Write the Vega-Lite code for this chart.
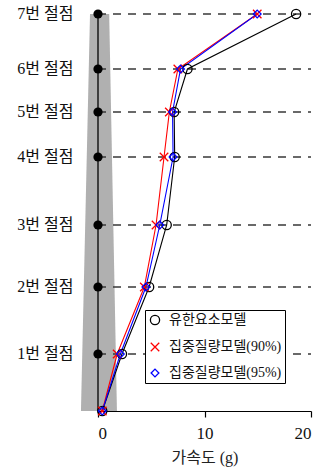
{
  "$schema": "https://vega.github.io/schema/vega-lite/v6.json",
  "width": 213,
  "height": 397,
  "autosize": {"type": "none"},
  "padding": {"left": 98, "top": 14, "right": 10, "bottom": 63},
  "config": {
    "view": {"stroke": null},
    "font": "Liberation Serif, Noto Sans CJK KR",
    "axis": {"grid": false}
  },
  "datasets": {
    "nodes": [
      {"level": 0, "node": "", "h": 0},
      {"level": 1, "node": "1번 절점", "h": 5.7},
      {"level": 2, "node": "2번 절점", "h": 12.4},
      {"level": 3, "node": "3번 절점", "h": 18.6},
      {"level": 4, "node": "4번 절점", "h": 25.4},
      {"level": 5, "node": "5번 절점", "h": 29.9},
      {"level": 6, "node": "6번 절점", "h": 34.2},
      {"level": 7, "node": "7번 절점", "h": 39.7}
    ],
    "column": [
      {"h": 0, "left": -1.6, "right": 1.78},
      {"h": 39.7, "left": -0.75, "right": 1.05}
    ],
    "accel": [
      {"model": "유한요소모델", "level": 0, "h": 0, "acc": 0.4},
      {"model": "유한요소모델", "level": 1, "h": 5.7, "acc": 2.25},
      {"model": "유한요소모델", "level": 2, "h": 12.4, "acc": 4.8},
      {"model": "유한요소모델", "level": 3, "h": 18.6, "acc": 6.45},
      {"model": "유한요소모델", "level": 4, "h": 25.4, "acc": 7.2},
      {"model": "유한요소모델", "level": 5, "h": 29.9, "acc": 7.15},
      {"model": "유한요소모델", "level": 6, "h": 34.2, "acc": 8.4},
      {"model": "유한요소모델", "level": 7, "h": 39.7, "acc": 18.6},
      {"model": "집중질량모델(90%)", "level": 0, "h": 0, "acc": 0.4},
      {"model": "집중질량모델(90%)", "level": 1, "h": 5.7, "acc": 1.8},
      {"model": "집중질량모델(90%)", "level": 2, "h": 12.4, "acc": 4.35},
      {"model": "집중질량모델(90%)", "level": 3, "h": 18.6, "acc": 5.45},
      {"model": "집중질량모델(90%)", "level": 4, "h": 25.4, "acc": 6.2},
      {"model": "집중질량모델(90%)", "level": 5, "h": 29.9, "acc": 6.7},
      {"model": "집중질량모델(90%)", "level": 6, "h": 34.2, "acc": 7.5},
      {"model": "집중질량모델(90%)", "level": 7, "h": 39.7, "acc": 14.95},
      {"model": "집중질량모델(95%)", "level": 0, "h": 0, "acc": 0.4},
      {"model": "집중질량모델(95%)", "level": 1, "h": 5.7, "acc": 2.1},
      {"model": "집중질량모델(95%)", "level": 2, "h": 12.4, "acc": 4.5},
      {"model": "집중질량모델(95%)", "level": 3, "h": 18.6, "acc": 5.8},
      {"model": "집중질량모델(95%)", "level": 4, "h": 25.4, "acc": 7.05},
      {"model": "집중질량모델(95%)", "level": 5, "h": 29.9, "acc": 7.0},
      {"model": "집중질량모델(95%)", "level": 6, "h": 34.2, "acc": 7.75},
      {"model": "집중질량모델(95%)", "level": 7, "h": 39.7, "acc": 14.95}
    ]
  },
  "encoding": {
    "y": {"field": "h", "type": "quantitative", "scale": {"domain": [0, 39.7], "nice": false, "zero": false}, "axis": null}
  },
  "layer": [
    {
      "data": {"name": "column"},
      "mark": {"type": "area", "orient": "horizontal", "color": "#b0b0b0"},
      "encoding": {
        "x": {"field": "left", "type": "quantitative"},
        "x2": {"field": "right"}
      }
    },
    {
      "data": {"name": "nodes"},
      "transform": [{"filter": "datum.level > 0"}],
      "mark": {"type": "rule", "color": "#383838", "strokeWidth": 1.5, "strokeDash": [8, 7]},
      "encoding": {
        "x": {"datum": 0, "type": "quantitative"},
        "x2": {"datum": 20}
      }
    },
    {
      "data": {"name": "nodes"},
      "mark": {"type": "line", "color": "black", "strokeWidth": 1.3},
      "encoding": {
        "x": {"datum": 0, "type": "quantitative"},
        "order": {"field": "h"}
      }
    },
    {
      "data": {"name": "nodes"},
      "transform": [{"filter": "datum.level > 0"}],
      "mark": {"type": "point", "filled": true, "color": "black", "opacity": 1, "size": 85},
      "encoding": {
        "x": {"datum": 0, "type": "quantitative"}
      }
    },
    {
      "data": {"name": "nodes"},
      "transform": [{"filter": "datum.level > 0"}],
      "mark": {"type": "text", "align": "right", "baseline": "middle", "fontSize": 16, "color": "#111"},
      "encoding": {
        "x": {"datum": -2.3, "type": "quantitative"},
        "text": {"field": "node"}
      }
    },
    {
      "data": {"name": "accel"},
      "transform": [{"filter": "datum.model === '유한요소모델'"}],
      "mark": {"type": "line", "strokeWidth": 1.1, "color": "black"},
      "encoding": {
        "x": {"field": "acc", "type": "quantitative"},
        "order": {"field": "h"}
      }
    },
    {
      "data": {"name": "accel"},
      "transform": [{"filter": "datum.model === '집중질량모델(90%)'"}],
      "mark": {"type": "line", "strokeWidth": 1.1, "color": "red"},
      "encoding": {
        "x": {"field": "acc", "type": "quantitative"},
        "order": {"field": "h"}
      }
    },
    {
      "data": {"name": "accel"},
      "transform": [{"filter": "datum.model === '집중질량모델(95%)'"}],
      "mark": {"type": "line", "strokeWidth": 1.1, "color": "blue"},
      "encoding": {
        "x": {"field": "acc", "type": "quantitative"},
        "order": {"field": "h"}
      }
    },
    {
      "data": {"name": "accel"},
      "mark": {"type": "point", "filled": false, "opacity": 1, "strokeWidth": 1.3},
      "encoding": {
        "x": {
          "field": "acc",
          "type": "quantitative",
          "scale": {"domain": [0, 20], "nice": false, "zero": false},
          "axis": {
            "values": [0, 10, 20],
            "title": "가속도 (g)",
            "domainColor": "black",
            "domainWidth": 1.2,
            "tickColor": "black",
            "tickWidth": 1.2,
            "tickSize": 6,
            "labelFont": "Liberation Serif",
            "labelFontSize": 17,
            "labelColor": "#111",
            "labelPadding": 8,
            "titleFont": "Liberation Serif, Noto Sans CJK KR",
            "titleFontSize": 16,
            "titleFontWeight": "normal",
            "titleColor": "#222",
            "titlePadding": 8
          }
        },
        "color": {
          "field": "model",
          "type": "nominal",
          "scale": {
            "domain": ["유한요소모델", "집중질량모델(90%)", "집중질량모델(95%)"],
            "range": ["black", "red", "blue"]
          },
          "legend": {
            "orient": "none",
            "legendX": 47,
            "legendY": 296,
            "title": null,
            "strokeColor": "black",
            "fillColor": "white",
            "padding": 3,
            "symbolStrokeWidth": 1.3,
            "labelFont": "Liberation Serif, Noto Sans CJK KR",
            "labelFontSize": 14,
            "labelColor": "#111",
            "labelOffset": 7,
            "rowPadding": 12
          }
        },
        "shape": {
          "field": "model",
          "type": "nominal",
          "scale": {
            "domain": ["유한요소모델", "집중질량모델(90%)", "집중질량모델(95%)"],
            "range": ["circle", "M-1,-1L1,1M-1,1L1,-1", "diamond"]
          }
        },
        "size": {
          "field": "model",
          "type": "nominal",
          "scale": {
            "domain": ["유한요소모델", "집중질량모델(90%)", "집중질량모델(95%)"],
            "range": [85, 60, 75]
          },
          "legend": null
        }
      }
    }
  ]
}
